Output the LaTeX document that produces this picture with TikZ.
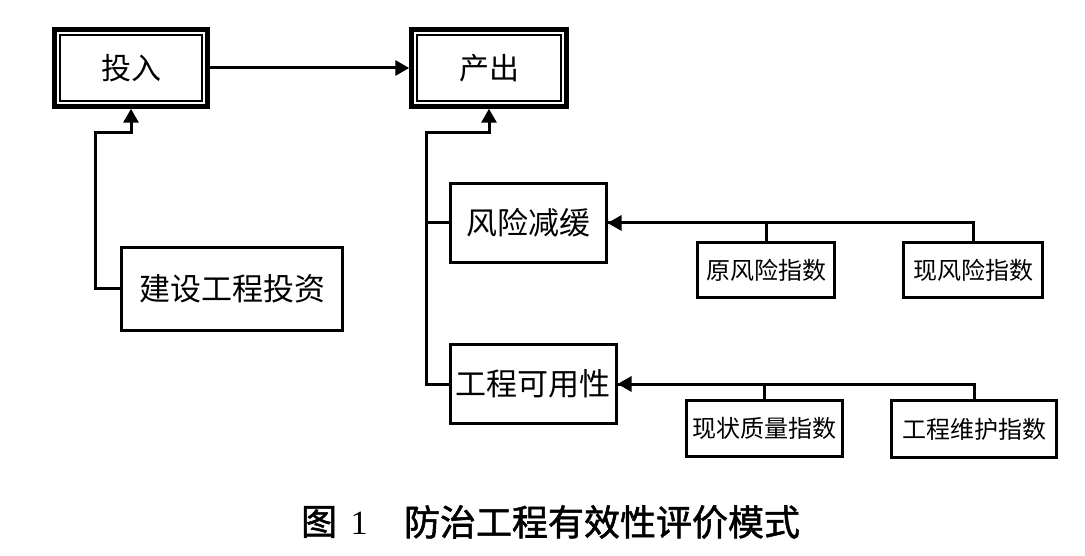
\documentclass[tikz,border=0pt]{standalone}
\usepackage{fontspec}
\setmainfont{Liberation Serif}
\newfontfamily\cjk{Noto Sans CJK SC}
\newfontfamily\cjkcap[FakeBold=1.5]{Noto Sans CJK SC}
\usetikzlibrary{arrows.meta,calc}
\tikzset{
  box/.style={draw, line width=3pt, inner sep=0pt, font=\cjk\fontsize{31}{31}\selectfont},
  sbox/.style={draw, line width=3pt, inner sep=0pt, font=\cjk\fontsize{24}{24}\selectfont},
  dbox/.style={draw, line width=4.5pt, inner sep=0pt, font=\cjk\fontsize{30}{30}\selectfont},
  conn/.style={line width=3pt},
  arr/.style={line width=3pt, -{Triangle[length=14pt,width=15pt]}},
}
\begin{document}
\begin{tikzpicture}[x=1pt,y=-1pt]
\useasboundingbox[fill=white] (0,0) rectangle (1085,556);
% top boxes
\node[dbox, minimum width=153pt, minimum height=77pt] (tou) at (131,68) {投入};
\node[dbox, minimum width=155pt, minimum height=77pt] (chan) at (489,68) {产出};
\foreach \n in {tou,chan}{
  \draw[line width=2pt] ($(\n.north west)+(7.5,7.5)$) rectangle ($(\n.south east)+(-7.5,-7.5)$);
}
\draw[arr] (tou.east) -- (chan.west);
% left input
\node[box, minimum width=221pt, minimum height=82pt] (jian) at (232,289) {建设工程投资};
\draw[arr] (jian.west) -- ++(-25,0) |- ($(tou.south)+(0,24)$) -- (tou.south);
% output components
\node[box, minimum width=156pt, minimum height=79pt] (fx) at (528,223) {风险减缓};
\node[box, minimum width=166pt, minimum height=79pt] (gc) at (533,384) {工程可用性};
\coordinate (tb) at ($(gc.west)+(-22,0)$);
\draw[arr] (gc.west) -- (tb) |- ($(chan.south)+(0,24)$) -- (chan.south);
\draw[conn] (fx.west) -- (fx.west -| tb);
% indices
\node[sbox, minimum width=137pt, minimum height=55pt] (yfx) at (766,270) {原风险指数};
\node[sbox, minimum width=139pt, minimum height=55pt] (xfx) at (973,270) {现风险指数};
\node[sbox, minimum width=156pt, minimum height=56pt] (xz) at (764,428) {现状质量指数};
\node[sbox, minimum width=165pt, minimum height=57pt] (wh) at (974,429) {工程维护指数};
\draw[conn] (xfx.north) |- (fx.east);
\draw[arr] (yfx.north) |- (fx.east);
\draw[conn] (wh.north) |- (gc.east);
\draw[arr] (xz.north) |- (gc.east);
% caption
\node[font=\cjkcap\fontsize{36}{36}\selectfont, inner sep=0pt] (capa) at (319,522) {图};
\node[font=\fontsize{34}{34}\selectfont, inner sep=0pt] (capb) at (359,523) {1};
\node[font=\cjkcap\fontsize{36}{36}\selectfont, inner sep=0pt] (capc) at (602,522) {防治工程有效性评价模式};
\end{tikzpicture}
\end{document}
